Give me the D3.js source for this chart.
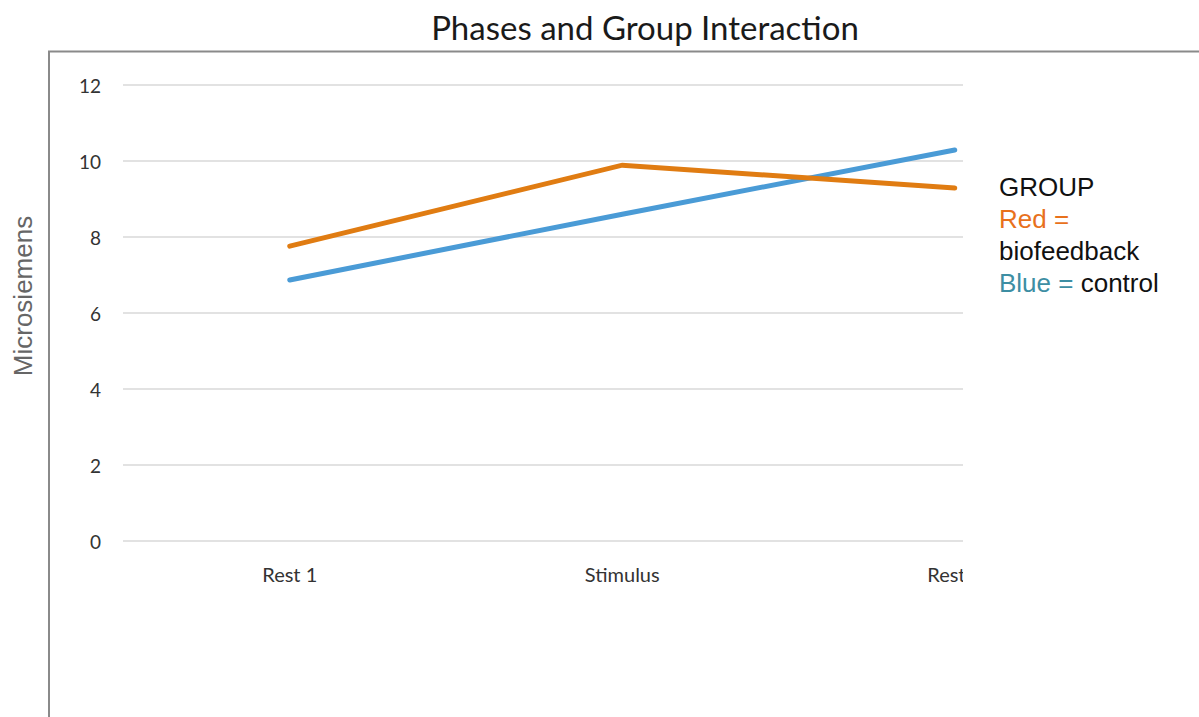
<!DOCTYPE html>
<html>
<head>
<meta charset="utf-8">
<script src="https://cdn.jsdelivr.net/npm/d3@7"></script>
<style>
  body { margin: 0; background: #fff; }
  svg { display: block; }
</style>
</head>
<body>
<svg id="chart" width="1199" height="717"></svg>
<script>
// chart data
var phases = ["Rest 1", "Stimulus", "Rest 2"];
var biofeedback = [7.76, 9.89, 9.29];
var control = [6.87, 8.6, 10.29];
var yTicks = [0, 2, 4, 6, 8, 10, 12];

var svg = d3.select("#chart");

// outer frame (runs off the right and bottom edge)
svg.append("path")
    .attr("d", "M49,717 V51.5 H1199")
    .attr("fill", "none")
    .attr("stroke", "#8a8a8a")
    .attr("stroke-width", 2);

// title
svg.append("text")
    .attr("x", 645)
    .attr("y", 40)
    .attr("text-anchor", "middle")
    .style("font-family", "Lato, 'Open Sans', sans-serif")
    .style("font-size", "33px")
    .style("fill", "#1a1a1a")
    .text("Phases and Group Interaction");

// plot area is clipped at the right like the original picture
svg.append("clipPath").attr("id", "plotclip")
  .append("rect").attr("x", 0).attr("y", 0).attr("width", 963).attr("height", 717);

var x = d3.scaleBand()
    .domain(phases)
    .range([123.5, 1121]);

var y = d3.scaleLinear()
    .domain([0, 12])
    .range([541, 85]);

var plot = svg.append("g").attr("clip-path", "url(#plotclip)");

// gridlines
plot.append("g")
    .selectAll("line")
    .data(yTicks)
    .enter().append("line")
    .attr("x1", 123)
    .attr("x2", 963)
    .attr("y1", function(d){ return y(d); })
    .attr("y2", function(d){ return y(d); })
    .attr("stroke", "#d9d9d9")
    .attr("stroke-width", 1.5);

// y axis labels
var yaxis = svg.append("g")
    .attr("transform", "translate(111,1)")
    .call(d3.axisLeft(y).tickValues(yTicks).tickSize(0).tickPadding(10));
yaxis.select(".domain").remove();
yaxis.selectAll("text")
    .style("font-family", "Lato, 'Open Sans', sans-serif")
    .style("font-size", "19px")
    .style("fill", "#333");

// x axis labels
var xaxis = plot.append("g")
    .attr("transform", "translate(0,555)")
    .call(d3.axisBottom(x).tickSize(0).tickPadding(13));
xaxis.select(".domain").remove();
xaxis.selectAll("text")
    .style("font-family", "Lato, 'Open Sans', sans-serif")
    .style("font-size", "20px")
    .style("fill", "#333");

// lines
var line = d3.line()
    .x(function(d, i){ return x(phases[i]) + x.bandwidth() / 2; })
    .y(function(d){ return y(d); });

plot.append("path")
    .datum(control)
    .attr("d", line)
    .attr("fill", "none")
    .attr("stroke", "#4a9bd6")
    .attr("stroke-width", 5)
    .attr("stroke-linecap", "round");

plot.append("path")
    .datum(biofeedback)
    .attr("d", line)
    .attr("fill", "none")
    .attr("stroke", "#e07c12")
    .attr("stroke-width", 5)
    .attr("stroke-linecap", "round");

// y axis title
svg.append("text")
    .attr("transform", "translate(32,296) rotate(-90)")
    .attr("text-anchor", "middle")
    .style("font-family", "'Liberation Sans', Arial, sans-serif")
    .style("font-size", "26px")
    .style("fill", "#666")
    .text("Microsiemens");

// legend note
var legend = svg.append("text")
    .style("font-family", "'Liberation Sans', Arial, sans-serif")
    .style("font-size", "26px")
    .style("fill", "#111");
legend.append("tspan").attr("x", 999).attr("y", 196).text("GROUP");
legend.append("tspan").attr("x", 999).attr("y", 228).style("fill", "#e8711c").text("Red =");
legend.append("tspan").attr("x", 999).attr("y", 260).text("biofeedback");
legend.append("tspan").attr("x", 999).attr("y", 292).style("fill", "#3d8ea3").text("Blue = ");
legend.append("tspan").text("control");
</script>
</body>
</html>
